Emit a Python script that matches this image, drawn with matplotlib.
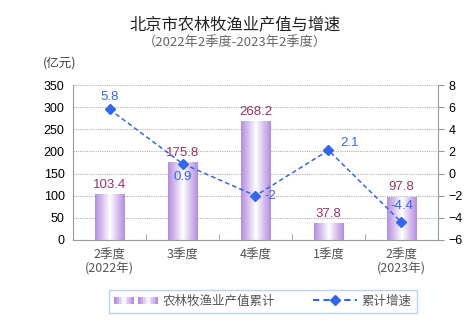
import numpy as np
import matplotlib
matplotlib.use("Agg")
import matplotlib.pyplot as plt
from matplotlib.colors import LinearSegmentedColormap
from matplotlib.patches import Rectangle
from matplotlib.lines import Line2D
from matplotlib.legend_handler import HandlerBase

plt.rcParams['font.family'] = ['Liberation Sans', 'Noto Sans CJK SC', 'DejaVu Sans']

quarters = ['2季度\n(2022年)', '3季度', '4季度', '1季度', '2季度\n(2023年)']
output_value = [103.4, 175.8, 268.2, 37.8, 97.8]
growth = [5.8, 0.9, -2, 2.1, -4.4]
growth_labels = ['5.8', '0.9', '-2', '2.1', '-4.4']

bar_label_color = '#993366'
line_color = '#3366ee'
cjk = ['Noto Sans CJK SC', 'DejaVu Sans']

cmap = LinearSegmentedColormap.from_list('bar', ['#b48ee0', '#d9c3f0', '#ffffff', '#d9c3f0', '#b48ee0'])


class GradientHandler(HandlerBase):
    # two small gradient boxes, like the original legend key
    def create_artists(self, legend, orig_handle, xdescent, ydescent,
                       width, height, fontsize, trans):
        artists = []
        n = 12
        box_w = width * 0.45
        for start in (0, width * 0.55):
            for i in range(n):
                c = cmap(i / (n - 1))
                r = Rectangle((start + i * box_w / n - xdescent, -ydescent + height * 0.1),
                              box_w / n + 0.3, height * 0.8, facecolor=c,
                              edgecolor='none', transform=trans)
                artists.append(r)
        return artists


fig = plt.figure(figsize=(4.7, 3.24), dpi=100)
ax = fig.add_axes([73 / 470, 1 - 240 / 324, (438 - 73) / 470, (240 - 85) / 324])

x = np.arange(len(quarters))
bars = ax.bar(x, output_value, width=0.4, color='none', edgecolor='none', zorder=2)

# gradient fill: purple edges, white centre
grad = np.linspace(0, 1, 64).reshape(1, -1)
for rect in bars:
    x0, w, h = rect.get_x(), rect.get_width(), rect.get_height()
    im = ax.imshow(grad, cmap=cmap, aspect='auto', extent=[x0, x0 + w, 0, h], zorder=2)
    im.set_clip_path(rect)

ax.set_xlim(-0.5, len(quarters) - 0.5)
ax.set_ylim(0, 350)
ax.set_yticks(np.arange(0, 351, 50))
ax.yaxis.grid(True, color='#b0b0b0', linestyle=(0, (1, 1)), linewidth=0.8)
ax.set_axisbelow(True)
ax.set_xticks(x)
ax.set_xticklabels(quarters, family=cjk, color='#555555', fontsize=9, linespacing=1.1)
ax.tick_params(axis='x', length=0, pad=6)
ax.set_xticks(np.arange(0.5, len(quarters) - 1, 1), minor=True)
ax.tick_params(axis='x', which='minor', direction='in', length=4, color='#999999')
ax.tick_params(axis='y', length=0, labelsize=9, pad=6)
for s in ['top', 'right']:
    ax.spines[s].set_visible(False)
ax.spines['left'].set_color('#999999')
ax.spines['bottom'].set_color('#999999')

for xi, v in zip(x, output_value):
    ax.text(xi, v + 8, f'{v:.1f}', ha='center', va='bottom', color=bar_label_color, fontsize=9.5, zorder=5)

ax2 = ax.twinx()
ax2.set_ylim(-6, 8)
ax2.set_yticks(np.arange(-6, 9, 2))
ax2.tick_params(axis='y', direction='out', length=4, color='#999999', labelsize=9)
for s in ['top', 'left', 'bottom']:
    ax2.spines[s].set_visible(False)
ax2.spines['right'].set_color('#999999')
ax2.plot(x, growth, color=line_color, linestyle=(0, (3, 2)), linewidth=1.1,
         marker='D', markersize=5, zorder=4)

offsets = [(0, 1.1, 'center'), (0, -1.2, 'center'), (0.12, 0, 'left'), (0.16, 0.65, 'left'), (0.01, 1.45, 'center')]
for xi, g, lab, (dx, dy, ha) in zip(x, growth, growth_labels, offsets):
    ax2.text(xi + dx, g + dy, lab, ha=ha, va='center', color=line_color, fontsize=9.5)

fig.text(0.5, 1 - 25 / 324, '北京市农林牧渔业产值与增速', ha='center', va='center',
         family=cjk, fontsize=11.7, color='#222222')
fig.text(0.5, 1 - 43 / 324, '（2022年2季度-2023年2季度）', ha='center', va='center',
         family=cjk, fontsize=9.5, color='#666666')
fig.text(60 / 470, 1 - 63 / 324, '(亿元)', ha='center', va='center',
         family=cjk, fontsize=9, color='#444444')

# legend
legend_bar = Rectangle((0, 0), 1, 1)
legend_line = Line2D([], [], color=line_color, linestyle=(0, (3, 2)), marker='D', markersize=5)
leg = fig.legend([legend_bar, legend_line], ['农林牧渔业产值累计', '累计增速'],
                 handler_map={Rectangle: GradientHandler()},
                 loc='center', bbox_to_anchor=(263 / 470, 1 - 301 / 324), ncol=2,
                 prop={'family': cjk, 'size': 9}, frameon=True, fancybox=False,
                 handlelength=3.5, columnspacing=3, borderpad=0.4, handletextpad=0.4)
leg.get_frame().set_edgecolor('#a8c8f0')
for t in leg.get_texts():
    t.set_color('#555555')

fig.savefig('out.png', dpi=100)
